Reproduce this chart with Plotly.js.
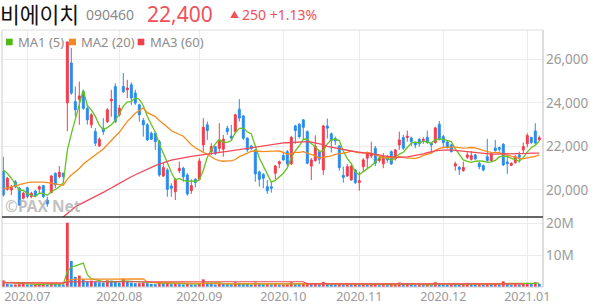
<!DOCTYPE html>
<html><head><meta charset="utf-8">
<script src="https://cdn.plot.ly/plotly-3.0.1.min.js"></script>
<style>html,body{margin:0;padding:0;background:#fff}#c{width:594px;height:304px}</style>
</head><body><div id="c"></div>
<script>
const dates = ["2020.06.23","2020.06.24","2020.06.25","2020.06.26","2020.06.29","2020.06.30",
"2020.07.01","2020.07.02","2020.07.03","2020.07.06","2020.07.07","2020.07.08","2020.07.09","2020.07.10","2020.07.13","2020.07.14","2020.07.15","2020.07.16","2020.07.17","2020.07.20","2020.07.21","2020.07.22","2020.07.23","2020.07.24","2020.07.27","2020.07.28","2020.07.29","2020.07.30","2020.07.31",
"2020.08.03","2020.08.04","2020.08.05","2020.08.06","2020.08.07","2020.08.10","2020.08.11","2020.08.12","2020.08.13","2020.08.14","2020.08.18","2020.08.19","2020.08.20","2020.08.21","2020.08.24","2020.08.25","2020.08.26","2020.08.27","2020.08.28","2020.08.31",
"2020.09.01","2020.09.02","2020.09.03","2020.09.04","2020.09.07","2020.09.08","2020.09.09","2020.09.10","2020.09.11","2020.09.14","2020.09.15","2020.09.16","2020.09.17","2020.09.18","2020.09.21","2020.09.22","2020.09.23","2020.09.24","2020.09.25","2020.09.28","2020.09.29",
"2020.10.05","2020.10.06","2020.10.07","2020.10.08","2020.10.12","2020.10.13","2020.10.14","2020.10.15","2020.10.16","2020.10.19","2020.10.20","2020.10.21","2020.10.22","2020.10.23","2020.10.26","2020.10.27","2020.10.28","2020.10.29","2020.10.30",
"2020.11.02","2020.11.03","2020.11.04","2020.11.05","2020.11.06","2020.11.09","2020.11.10","2020.11.11","2020.11.12","2020.11.13","2020.11.16","2020.11.17","2020.11.18","2020.11.19","2020.11.20","2020.11.23","2020.11.24","2020.11.25","2020.11.26","2020.11.27","2020.11.30",
"2020.12.01","2020.12.02","2020.12.03","2020.12.04","2020.12.07","2020.12.08","2020.12.09","2020.12.10","2020.12.11","2020.12.14","2020.12.15","2020.12.16","2020.12.17","2020.12.18","2020.12.21","2020.12.22","2020.12.23","2020.12.24","2020.12.28","2020.12.29","2020.12.30",
"2021.01.04","2021.01.05","2021.01.06","2021.01.07"];

const open  = [20850,20030,20000,20380,20080,19620,20100,19700,19950,20040,20200,19540,19880,20770,20610,20770,24000,25830,24060,24170,24520,23750,22990,22680,22020,22840,23140,24090,24750,23450,24750,24600,24830,24450,23910,23190,22990,22610,22610,22220,20640,20920,20180,19920,20890,21000,20690,19970,20490,20490,22070,22990,21760,21990,21910,21870,22840,22480,22680,23710,23400,22380,22020,21840,20830,20720,20150,20150,20770,21200,21580,21760,21200,22940,23020,23220,22680,21100,21350,21750,20920,22940,22580,22360,22020,20670,20640,20460,20920,20340,21070,21460,21560,21920,21350,21200,21530,21760,21430,22070,22410,22410,22390,22180,22330,22270,22420,22150,22180,23020,22450,22200,22070,21100,21040,20890,21500,21410,21610,21230,21120,21530,21350,21930,21950,22100,21290,21130,21260,21610,21840,22120,22410,22710,22300];
const high  = [21530,20600,20230,20460,20150,19920,20150,19920,20000,20210,20230,19690,20690,20800,21100,20800,26800,26520,24750,24980,24600,23910,23530,22840,22420,23300,23760,24600,24900,23910,25370,25060,24940,24600,23960,23300,23070,22680,22680,22300,21230,21000,20310,20540,21300,21070,20770,20490,20540,21460,23300,23140,22150,22020,23070,22530,22950,22990,23500,24170,23450,22420,22070,21870,20890,20770,20460,20380,21150,21350,21760,21840,22480,22990,23070,23250,22730,21460,22510,21810,22990,23280,22640,22450,22070,21070,21200,21150,20950,20840,21460,21760,22220,22020,21560,21690,21610,21810,21870,22680,22530,22730,22450,22220,22380,22420,22730,22180,22910,23170,22530,22250,22120,21300,21100,21300,21730,21790,21660,21300,21170,22350,21720,22300,21990,22150,21580,21270,21610,21760,22180,22610,22450,23070,22500];
const low   = [19700,19970,19770,20080,19280,19570,19620,19620,19690,19820,19620,19230,19850,20080,20540,20380,22700,24370,23370,22990,23680,23000,22840,22020,21990,22530,23070,23370,23070,23370,24450,24220,23910,23910,23140,22450,22250,22300,21840,20610,20610,19690,19690,19540,20770,20380,19740,19820,20120,20460,21760,22300,21610,21610,21690,21530,22530,22300,22610,23140,22300,21750,21840,20380,20150,20080,19820,19880,20490,21000,21350,21070,21150,22120,22360,22330,21180,20460,21300,21200,20690,22360,21720,22070,20890,20340,20610,20430,20280,19970,20840,21000,21460,21100,21260,21000,21260,21150,21350,21840,21840,22220,22020,21920,21990,22120,22120,21690,22120,22270,21920,21900,21720,20890,20690,20840,21430,21350,21380,20950,20860,21300,21290,21760,21760,21100,20740,21100,21210,21260,21690,21960,22100,22150,22250];
const close = [19770,20540,20120,20150,19310,19850,19700,19850,19740,20150,19700,19360,20640,20230,20810,20610,26800,24450,23680,24320,23750,23220,23450,22150,22330,22680,23680,24170,23140,23760,24520,24680,24220,23990,23450,22990,22300,22330,22220,20690,21030,20030,20080,20490,21000,20610,19820,20200,20340,21330,22880,22730,21990,21660,22300,22330,22680,22380,23450,23300,22380,21840,21900,20740,20490,20540,19970,20080,21100,21300,21380,21200,22410,22730,22450,22880,21230,21380,22020,21410,22940,22840,22270,22250,21030,20580,21070,21100,20340,20430,21380,21660,21690,21230,21460,21530,21380,21200,21840,22300,21920,22480,22220,22070,22120,22330,22180,22070,22850,22330,22180,21960,21760,21200,20950,21030,21610,21580,21430,21070,20920,21350,21660,21810,21870,21150,21210,21230,21530,21500,21990,22500,22180,22150,22400];

const ma5  = [20920,20770,20540,20280,19980,19990,19830,19770,19690,19860,19830,19760,19920,20020,20150,20330,21820,22580,23270,23970,24600,23880,23680,23380,22980,22770,22860,23000,23200,23490,23850,24050,24060,24230,24170,23870,23390,23010,22660,22110,21710,21260,20810,20460,20530,20440,20400,20420,20390,20460,20910,21500,21850,22120,22310,22200,22190,22270,22630,22830,22840,22670,22570,22030,21470,21100,20730,20360,20440,20600,20770,21010,21480,21800,22030,22330,22340,22130,21990,21780,21800,22120,22300,22340,22270,21790,21440,21210,20820,20700,20860,20980,21100,21280,21480,21510,21460,21360,21480,21650,21730,21950,22150,22200,22160,22240,22180,22150,22310,22350,22320,22280,22220,21890,21610,21380,21310,21270,21320,21340,21320,21270,21290,21360,21520,21570,21540,21450,21400,21320,21490,21750,21940,22060,22240];
const ma20 = [20050,20100,20160,20220,20270,20310,20340,20360,20370,20370,20360,20340,20320,20290,20250,20220,20500,20690,20840,20990,21190,21320,21490,21590,21740,21880,22080,22300,22470,22650,22890,23150,23330,23520,23650,23770,23550,23440,23370,23190,23050,22890,22720,22640,22570,22470,22280,22080,21940,21820,21730,21640,21530,21410,21350,21320,21340,21340,21400,21530,21600,21690,21780,21790,21770,21760,21770,21770,21800,21800,21730,21650,21670,21730,21730,21760,21690,21640,21570,21470,21500,21550,21570,21640,21670,21670,21730,21780,21740,21700,21700,21720,21680,21610,21560,21490,21500,21490,21480,21530,21480,21460,21460,21450,21500,21590,21640,21690,21820,21910,21950,21970,21970,21970,21940,21920,21930,21950,21930,21870,21820,21760,21730,21720,21710,21650,21600,21560,21490,21450,21440,21470,21490,21540,21610];
const ma60 = [null,null,null,null,null,null,null,null,null,null,null,null,null,18450,18600,18770,18920,19070,19230,19330,19430,19520,19620,19710,19800,19890,19980,20090,20200,20310,20420,20520,20610,20700,20790,20880,20970,21050,21120,21190,21260,21330,21370,21410,21450,21480,21510,21540,21570,21600,21630,21660,21685,21710,21730,21750,21770,21800,21820,21840,21870,21900,21930,21960,21990,22020,22050,22080,22110,22140,22160,22170,22180,22200,22210,22220,22220,22200,22160,22120,22080,22000,21960,21920,21880,21850,21820,21790,21760,21740,21710,21690,21660,21630,21610,21570,21540,21520,21510,21500,21500,21520,21550,21580,21610,21660,21710,21760,21800,21820,21830,21840,21840,21820,21800,21780,21760,21740,21720,21690,21660,21650,21650,21650,21650,21660,21660,21660,21670,21670,21680,21680,21690,21690,21690];

// volume, millions of shares
const volume = [2.1,1.0,0.8,0.8,0.9,1.0,0.8,0.7,0.7,0.8,0.8,0.7,1.3,1.0,0.9,0.8,20.2,8.2,3.2,3.6,2.4,1.8,2.0,1.7,1.5,1.4,2.1,2.0,1.6,1.4,2.6,1.7,1.4,1.2,1.2,1.3,1.2,1.0,0.9,1.6,1.2,1.3,0.9,1.0,0.9,0.8,1.1,0.8,0.7,1.2,2.4,1.3,1.0,0.8,1.2,1.0,0.9,0.8,1.5,1.3,1.0,0.9,0.7,1.4,1.0,0.8,0.9,0.7,0.9,0.7,0.7,0.8,1.5,1.0,0.9,1.0,1.3,0.9,1.2,0.8,1.6,1.0,0.9,0.7,1.0,0.8,0.8,0.7,0.8,0.7,0.9,0.8,0.8,0.9,0.6,0.7,0.6,0.8,0.9,1.4,0.9,1.1,0.8,0.6,0.7,0.6,0.8,0.6,1.5,1.2,0.8,0.7,0.9,0.8,0.7,0.8,1.3,0.9,0.7,0.8,0.7,1.1,0.9,1.0,0.7,1.8,1.1,0.7,0.9,0.8,1.2,1.3,1.0,1.5,1.0];
const vma5 = [1.5,1.4,1.3,1.2,1.12,0.9,0.86,0.84,0.82,0.8,0.76,0.74,0.86,0.92,0.94,0.94,4.84,6.22,6.66,7.2,7.52,3.84,2.6,2.3,1.9,1.7,1.74,1.74,1.72,1.7,1.94,1.86,1.74,1.66,1.62,1.36,1.26,1.18,1.12,1.2,1.18,1.2,1.18,1.2,1.06,0.98,0.94,0.9,0.86,0.92,1.24,1.28,1.32,1.34,1.34,1.06,0.98,0.94,1.08,1.1,1.1,1.1,1.08,1.06,1.0,0.96,0.96,0.96,0.86,0.8,0.78,0.76,0.92,0.94,0.98,1.04,1.14,1.02,1.06,1.04,1.16,1.1,1.1,1.06,1.04,0.88,0.84,0.8,0.82,0.76,0.78,0.78,0.8,0.82,0.76,0.76,0.72,0.72,0.72,0.88,0.92,1.02,1.02,0.96,0.82,0.76,0.7,0.66,0.84,0.94,0.98,0.96,1.02,0.84,0.78,0.78,0.9,0.9,0.88,0.9,0.88,0.84,0.84,0.9,0.88,1.1,1.1,1.06,1.04,1.06,0.94,0.98,1.04,1.16,1.2];
const vma20 = [1.5,1.5,1.45,1.4,1.4,1.35,1.3,1.3,1.25,1.2,1.2,1.15,1.15,1.1,1.1,1.05,2.0,2.35,2.45,2.5,2.5,2.5,2.5,2.5,2.5,2.5,2.5,2.5,2.5,2.5,2.55,2.55,2.55,2.55,2.55,2.55,1.6,1.45,1.4,1.4,1.35,1.35,1.3,1.3,1.25,1.25,1.2,1.2,1.15,1.15,1.15,1.1,1.1,1.05,1.05,1.05,1.0,1.0,1.0,1.0,1.0,1.0,1.0,1.0,1.0,1.0,0.95,0.95,0.95,0.95,0.95,0.95,0.95,0.95,0.95,0.95,0.95,0.95,0.95,0.95,0.95,0.95,0.95,0.95,0.95,0.95,0.9,0.9,0.9,0.9,0.9,0.9,0.9,0.9,0.9,0.9,0.9,0.9,0.9,0.9,0.9,0.9,0.9,0.9,0.9,0.9,0.9,0.9,0.9,0.9,0.9,0.9,0.9,0.9,0.9,0.9,0.9,0.9,0.9,0.9,0.9,0.9,0.9,0.9,0.9,0.95,0.95,0.95,0.95,0.95,0.95];
const vma60 = [1.3,1.3,1.3,1.3,1.3,1.3,1.3,1.3,1.3,1.3,1.3,1.3,1.3,1.3,1.3,1.3,1.6,1.65,1.65,1.65,1.65,1.65,1.65,1.65,1.65,1.65,1.65,1.65,1.65,1.65,1.65,1.65,1.65,1.65,1.65,1.65,1.65,1.65,1.65,1.65,1.65,1.65,1.65,1.65,1.65,1.65,1.65,1.65,1.65,1.65,1.65,1.65,1.65,1.65,1.65,1.65,1.65,1.65,1.65,1.65,1.65,1.65,1.65,1.65,1.65,1.65,1.65,1.65,1.65,1.65,1.65,1.65,1.65,1.65,1.65,1.65,1.0,1.0,1.0,1.0,1.0,1.0,1.0,1.0,1.0,1.0,1.0,1.0,1.0,1.0,1.0,1.0,1.0,1.0,1.0,1.0,1.0,1.0,1.0,1.0,1.0,1.0,1.0,1.0,1.0,1.0,1.0,1.0,1.0,1.0,1.0,1.0,1.0,1.0,1.0,1.0,1.0,1.0,1.0,1.0,1.0,1.0,1.0,1.0,1.0,1.0,1.0,1.0,1.0,1.0,1.0];

const monthTicks = ["2020.07.01","2020.08.03","2020.09.01","2020.10.05","2020.11.02","2020.12.01","2021.01.04"];
const monthLabels = ["2020.07","2020.08","2020.09","2020.10","2020.11","2020.12","2021.01"];
const priceTicks = [20000,22000,24000,26000];
const volTicks = [10,20];
const volLabels = ["10M","20M"];

const RED = "#f23d4b", BLUE = "#2a8cec";
const C1 = "#66c21f", C2 = "#f58c1e", C3 = "#f04a5a";

const volColors = volume.map((v,i)=> (i===0 || v >= volume[i-1]) ? RED : BLUE);

const traces = [
  {type:"candlestick", x:dates, open:open, high:high, low:low, close:close, xaxis:"x", yaxis:"y",
   increasing:{line:{color:RED,width:1}, fillcolor:RED},
   decreasing:{line:{color:BLUE,width:1}, fillcolor:BLUE},
   whiskerwidth:0, hoverinfo:"skip"},
  {type:"scatter", mode:"lines", x:dates, y:ma5, line:{color:C1,width:1.3}, xaxis:"x", yaxis:"y", hoverinfo:"skip"},
  {type:"scatter", mode:"lines", x:dates, y:ma20, line:{color:C2,width:1.3}, xaxis:"x", yaxis:"y", hoverinfo:"skip"},
  {type:"scatter", mode:"lines", x:dates, y:ma60, line:{color:C3,width:1.3}, xaxis:"x", yaxis:"y", hoverinfo:"skip"},
  {type:"bar", x:dates, y:volume, marker:{color:volColors, line:{width:0}}, xaxis:"x", yaxis:"y2", hoverinfo:"skip"},
  {type:"scatter", mode:"lines", x:dates, y:vma5, line:{color:C1,width:1.2}, xaxis:"x", yaxis:"y2", hoverinfo:"skip"},
  {type:"scatter", mode:"lines", x:dates, y:vma20, line:{color:C2,width:1.2}, xaxis:"x", yaxis:"y2", hoverinfo:"skip"},
  {type:"scatter", mode:"lines", x:dates, y:vma60, line:{color:C3,width:1.2}, xaxis:"x", yaxis:"y2", hoverinfo:"skip"}
];

const L=2, R=543, T=30, B=287;
const px = x => (x-L)/(R-L);
const py = y => 1-(y-T)/(B-T);
const split = py(217);
const FONT = "'Noto Sans', 'Noto Sans CJK KR', sans-serif";

const ann = (x,y,text,size,color,extra) => Object.assign({xref:"paper",yref:"paper",x:px(x),y:py(y),xanchor:"left",yanchor:"middle",showarrow:false,borderpad:0,text:text,font:{family:FONT,size:size,color:color}},extra||{});

const layout = {
  width:594, height:304,
  margin:{l:L, r:594-R, t:T, b:304-B, pad:0},
  paper_bgcolor:"#fff", plot_bgcolor:"#fff",
  showlegend:false, bargap:0.3,
  font:{family:FONT, size:12, color:"#999"},
  xaxis:{type:"category", range:[-0.33,134.93], anchor:"y2", tickmode:"array", tickvals:monthTicks, ticktext:monthLabels,
    showgrid:true, gridcolor:"#ececec", gridwidth:1, ticks:"", showline:false, zeroline:false,
    rangeslider:{visible:false}, tickfont:{family:FONT,size:12.5,color:"#9a9a9a"}, fixedrange:true},
  yaxis:{domain:[split,1], range:[18760,27346], side:"right", tickmode:"array", tickvals:priceTicks, tickformat:",d",
    showgrid:true, gridcolor:"#ececec", ticks:"", zeroline:false, showline:false, ticklabelstandoff:2,
    tickfont:{family:FONT,size:13.5,color:"#9a9a9a"}, fixedrange:true},
  yaxis2:{domain:[0,split], range:[0,22], side:"right", tickmode:"array", tickvals:volTicks, ticktext:volLabels,
    showgrid:true, gridcolor:"#ececec", ticks:"", zeroline:false, showline:false, ticklabelstandoff:2,
    tickfont:{family:FONT,size:13.5,color:"#9a9a9a"}, fixedrange:true},
  shapes:[
    {type:"line",xref:"paper",yref:"paper",x0:0,x1:1,y0:1,y1:1,line:{color:"#dddddd",width:1}},
    {type:"line",xref:"paper",yref:"paper",x0:0,x1:0,y0:0,y1:1,line:{color:"#cccccc",width:1}},
    {type:"line",xref:"paper",yref:"paper",x0:1,x1:1,y0:0,y1:1,line:{color:"#bbbbbb",width:1}},
    {type:"line",xref:"paper",yref:"paper",x0:0,x1:1,y0:0,y1:0,line:{color:"#cccccc",width:1}},
    {type:"line",xref:"paper",yref:"paper",x0:0,x1:1,y0:split,y1:split,line:{color:"#333333",width:1.5}},
    {type:"rect",xref:"paper",yref:"paper",x0:px(6),x1:px(12.7),y0:py(38.7),y1:py(45.3),fillcolor:"#52b814",line:{width:0}},
    {type:"rect",xref:"paper",yref:"paper",x0:px(69),x1:px(76),y0:py(38.7),y1:py(45.3),fillcolor:"#f5891f",line:{width:0}},
    {type:"rect",xref:"paper",yref:"paper",x0:px(137.7),x1:px(144.3),y0:py(38.7),y1:py(45.3),fillcolor:"#f0404a",line:{width:0}}
  ],
  annotations:[
    ann(-1,14.5,"비에이치",21.5,"#111111"),
    ann(85,14.5,"090460",14,"#8a8a8a"),
    ann(146,14,"22,400",21,"#f0505a"),
    ann(229,14.5,"▲",9,"#f0505a"),
    ann(241,14.5,"250 +1.13%",14,"#f0505a"),
    ann(17,42,"MA1 (5)",13,"#8c8c8c"),
    ann(80,42,"MA2 (20)",13,"#8c8c8c"),
    ann(149,42,"MA3 (60)",13,"#8c8c8c"),
    ann(4,206,"<b>©PAX Net</b>",15.5,"rgba(170,170,170,0.72)")
  ]
};

Plotly.newPlot("c", traces, layout, {staticPlot:true, displayModeBar:false});
</script></body></html>
